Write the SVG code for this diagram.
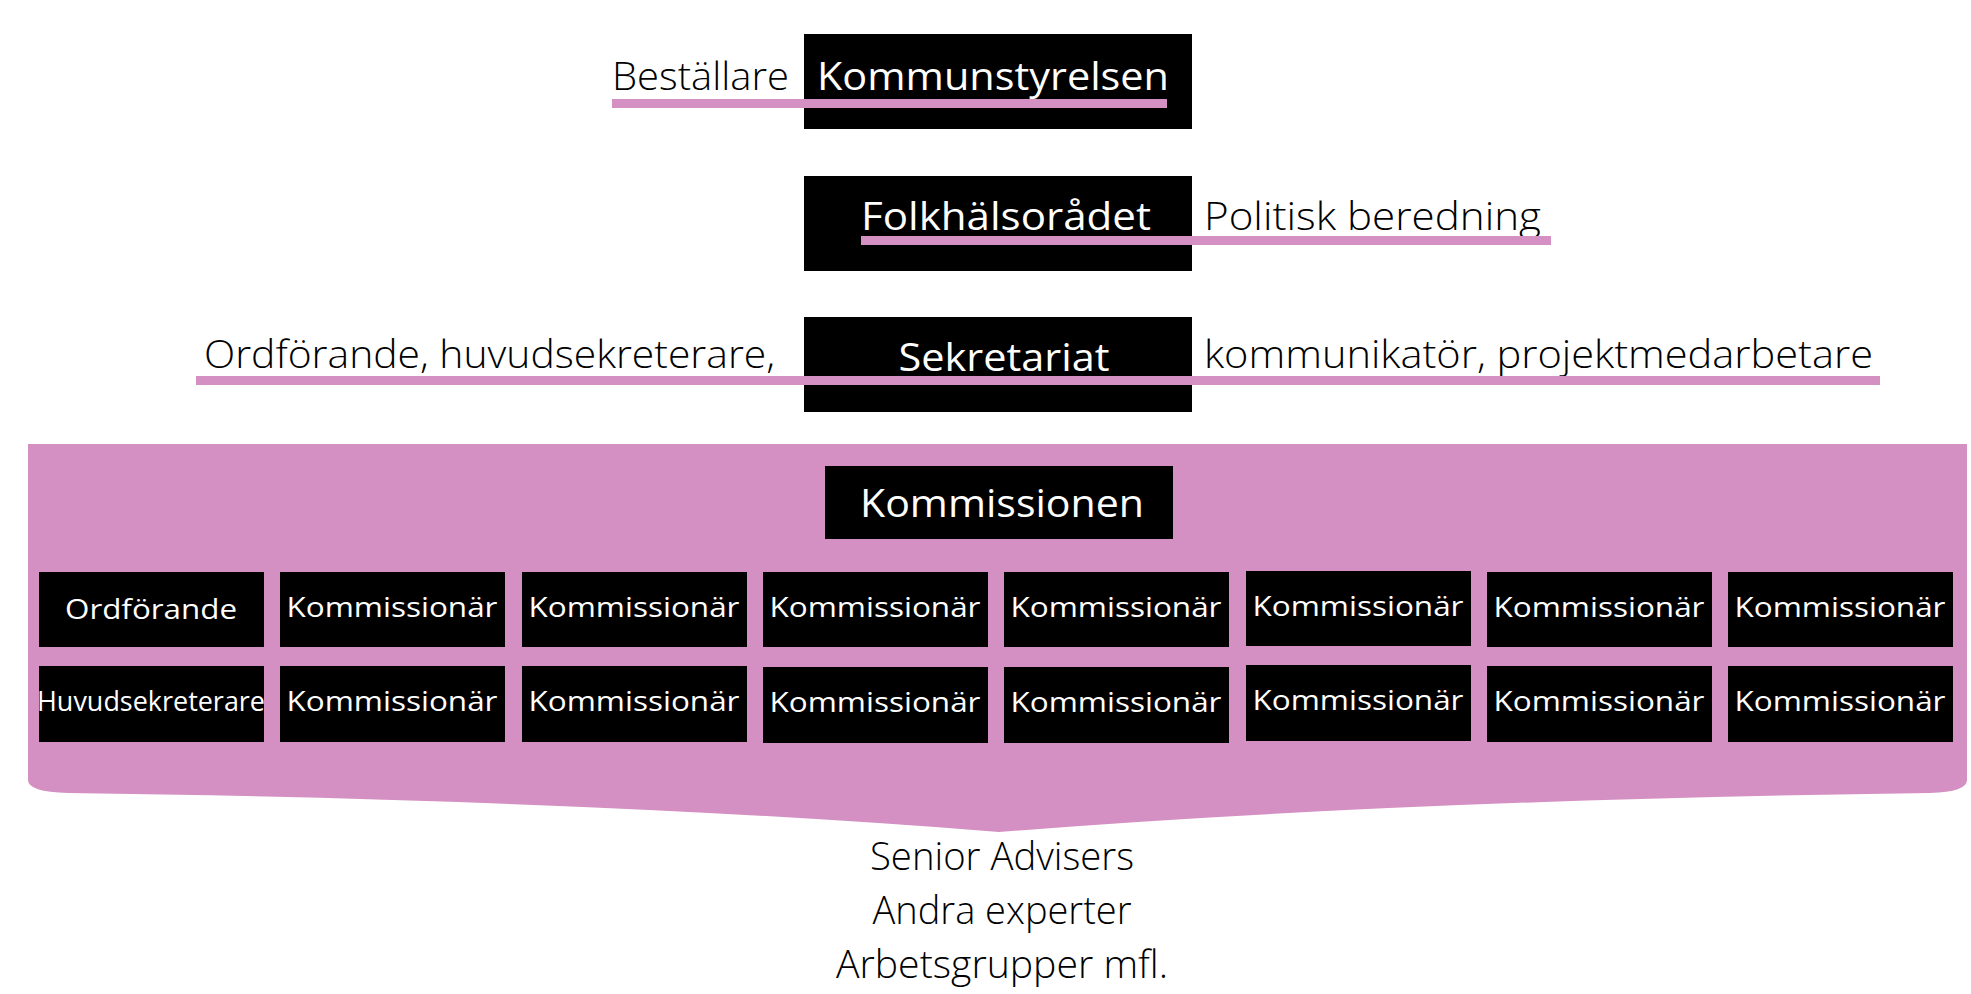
<svg xmlns="http://www.w3.org/2000/svg" width="1971" height="994" viewBox="0 0 1971 994">
<style>
text{font-family:"Open Sans","Liberation Sans",sans-serif}
.b{fill:#000}
.w{fill:#fff;font-size:38px}
.k{fill:#000;font-size:38px;font-weight:300}
.g{fill:#fff;font-size:28px}
.ln{fill:#d490c2}
</style>
<rect width="1971" height="994" fill="#fff"/>
<g id="kommissionen-area">
<path class="ln" d="M28,444 H1967 V780 Q1967,792 1930,793 Q1400,800 999,832 Q600,800 68,793 Q28,792 28,780 Z"/>
</g>
<g id="kommunstyrelsen">
<rect class="b" x="804" y="34" width="388" height="95"/>
<text class="k" x="612" y="90" textLength="177" lengthAdjust="spacingAndGlyphs">Beställare</text>
<text class="w" x="817" y="90" textLength="352" lengthAdjust="spacingAndGlyphs">Kommunstyrelsen</text>
</g>
<g id="folkhalsoradet">
<rect class="b" x="804" y="176" width="388" height="95"/>
<text class="w" x="861" y="230" textLength="290" lengthAdjust="spacingAndGlyphs">Folkhälsorådet</text>
<text class="k" x="1204" y="230" textLength="337" lengthAdjust="spacingAndGlyphs">Politisk beredning</text>
</g>
<g id="sekretariat">
<rect class="b" x="804" y="317" width="388" height="95"/>
<text class="w" x="1004" y="371" text-anchor="middle" textLength="211" lengthAdjust="spacingAndGlyphs">Sekretariat</text>
<text class="k" x="204" y="368" textLength="571" lengthAdjust="spacingAndGlyphs">Ordförande, huvudsekreterare,</text>
<text class="k" x="1204" y="368" textLength="669" lengthAdjust="spacingAndGlyphs">kommunikatör, projektmedarbetare</text>
</g>
<g id="connectors">
<rect class="ln" x="612" y="99" width="555" height="9"/>
<rect class="ln" x="861" y="236" width="690" height="9"/>
<rect class="ln" x="196" y="376" width="1684" height="9"/>
</g>
<g id="kommissionen">
<rect class="b" x="825" y="466" width="348" height="73"/>
<text class="w" x="1002" y="517" text-anchor="middle" textLength="284" lengthAdjust="spacingAndGlyphs">Kommissionen</text>
</g>
<g id="grid">
<g id="n-ordf"><rect class="b" x="39" y="572" width="225" height="75"/><text class="g" x="151" y="619" text-anchor="middle" textLength="172" lengthAdjust="spacingAndGlyphs">Ordförande</text></g>
<g id="n-huvud"><rect class="b" x="39" y="666" width="225" height="76"/><text class="g" x="151" y="711" text-anchor="middle" textLength="228" lengthAdjust="spacingAndGlyphs">Huvudsekreterare</text></g>
<g id="n-r1c2"><rect class="b" x="280" y="572" width="225" height="75"/><text class="g" x="392" y="617" text-anchor="middle" textLength="211" lengthAdjust="spacingAndGlyphs">Kommissionär</text></g>
<g id="n-r1c3"><rect class="b" x="522" y="572" width="225" height="75"/><text class="g" x="634" y="617" text-anchor="middle" textLength="211" lengthAdjust="spacingAndGlyphs">Kommissionär</text></g>
<g id="n-r1c4"><rect class="b" x="763" y="572" width="225" height="75"/><text class="g" x="875" y="617" text-anchor="middle" textLength="211" lengthAdjust="spacingAndGlyphs">Kommissionär</text></g>
<g id="n-r1c5"><rect class="b" x="1004" y="572" width="225" height="75"/><text class="g" x="1116" y="617" text-anchor="middle" textLength="211" lengthAdjust="spacingAndGlyphs">Kommissionär</text></g>
<g id="n-r1c6"><rect class="b" x="1246" y="571" width="225" height="75"/><text class="g" x="1358" y="616" text-anchor="middle" textLength="211" lengthAdjust="spacingAndGlyphs">Kommissionär</text></g>
<g id="n-r1c7"><rect class="b" x="1487" y="572" width="225" height="75"/><text class="g" x="1599" y="617" text-anchor="middle" textLength="211" lengthAdjust="spacingAndGlyphs">Kommissionär</text></g>
<g id="n-r1c8"><rect class="b" x="1728" y="572" width="225" height="75"/><text class="g" x="1840" y="617" text-anchor="middle" textLength="211" lengthAdjust="spacingAndGlyphs">Kommissionär</text></g>
<g id="n-r2c2"><rect class="b" x="280" y="666" width="225" height="76"/><text class="g" x="392" y="711" text-anchor="middle" textLength="211" lengthAdjust="spacingAndGlyphs">Kommissionär</text></g>
<g id="n-r2c3"><rect class="b" x="522" y="666" width="225" height="76"/><text class="g" x="634" y="711" text-anchor="middle" textLength="211" lengthAdjust="spacingAndGlyphs">Kommissionär</text></g>
<g id="n-r2c4"><rect class="b" x="763" y="667" width="225" height="76"/><text class="g" x="875" y="712" text-anchor="middle" textLength="211" lengthAdjust="spacingAndGlyphs">Kommissionär</text></g>
<g id="n-r2c5"><rect class="b" x="1004" y="667" width="225" height="76"/><text class="g" x="1116" y="712" text-anchor="middle" textLength="211" lengthAdjust="spacingAndGlyphs">Kommissionär</text></g>
<g id="n-r2c6"><rect class="b" x="1246" y="665" width="225" height="76"/><text class="g" x="1358" y="710" text-anchor="middle" textLength="211" lengthAdjust="spacingAndGlyphs">Kommissionär</text></g>
<g id="n-r2c7"><rect class="b" x="1487" y="666" width="225" height="76"/><text class="g" x="1599" y="711" text-anchor="middle" textLength="211" lengthAdjust="spacingAndGlyphs">Kommissionär</text></g>
<g id="n-r2c8"><rect class="b" x="1728" y="666" width="225" height="76"/><text class="g" x="1840" y="711" text-anchor="middle" textLength="211" lengthAdjust="spacingAndGlyphs">Kommissionär</text></g>
</g>
<g id="experts">
<text class="k" x="1002" y="870" text-anchor="middle" textLength="264" lengthAdjust="spacingAndGlyphs">Senior Advisers</text>
<text class="k" x="1002" y="924" text-anchor="middle" textLength="259" lengthAdjust="spacingAndGlyphs">Andra experter</text>
<text class="k" x="1002" y="978" text-anchor="middle" textLength="332" lengthAdjust="spacingAndGlyphs">Arbetsgrupper mfl.</text>
</g>
</svg>
